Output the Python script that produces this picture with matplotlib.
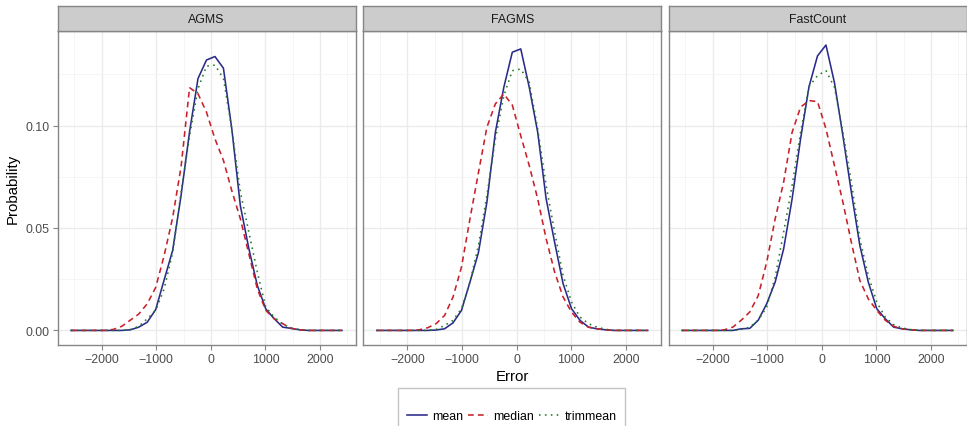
import numpy as np
import matplotlib
matplotlib.use("Agg")
import matplotlib.pyplot as plt
from matplotlib.lines import Line2D
from matplotlib.patches import Rectangle
from matplotlib.ticker import MultipleLocator, FuncFormatter

plt.rcParams['font.family'] = ['Liberation Sans', 'DejaVu Sans']

# ---- data ----
error = np.linspace(-2560, 2400, 33)
panels = ["AGMS", "FAGMS", "FastCount"]
series_names = ["mean", "median", "trimmean"]

agms_mean = [0, 0, 0, 0, 0, 0, 0,
             0.0003, 0.0016, 0.004, 0.0102, 0.0247, 0.039, 0.066, 0.097, 0.123, 0.132,
             0.1337, 0.128, 0.098, 0.0608, 0.040, 0.022, 0.0105, 0.0057, 0.0016, 0.001,
             0.0003, 0, 0, 0, 0, 0]
agms_median = [0, 0, 0, 0, 0,
               0.0005, 0.002, 0.005, 0.008, 0.013, 0.021, 0.0366, 0.055, 0.080, 0.1185,
               0.1155, 0.1065, 0.0935, 0.083, 0.068, 0.0545, 0.0374, 0.0203, 0.0098, 0.0057,
               0.0033, 0.001, 0.0003, 0, 0, 0, 0, 0]
agms_trim = [0, 0, 0, 0, 0, 0, 0,
             0.0004, 0.002, 0.0057, 0.0098, 0.0203, 0.038, 0.0675, 0.095, 0.118, 0.129,
             0.1295, 0.123, 0.098, 0.0675, 0.048, 0.0285, 0.0114, 0.0065, 0.003, 0.0012,
             0.0004, 0, 0, 0, 0, 0]

fagms_mean = [0, 0, 0, 0, 0, 0, 0,
              0.0002, 0.0008, 0.0037, 0.0098, 0.0236, 0.038, 0.0626, 0.0967, 0.1187, 0.1358,
              0.1374, 0.1187, 0.0967, 0.0642, 0.043, 0.0228, 0.0106, 0.0049, 0.0016, 0.0008,
              0.0003, 0, 0, 0, 0, 0]
fagms_median = [0, 0, 0, 0, 0,
                0.0003, 0.0013, 0.0033, 0.0073, 0.0163, 0.031, 0.0545, 0.077, 0.0992, 0.1106,
                0.1154, 0.110, 0.095, 0.0805, 0.0642, 0.0447, 0.0285, 0.0163, 0.0089, 0.004,
                0.0016, 0.0008, 0.0003, 0, 0, 0, 0, 0]
fagms_trim = [0, 0, 0, 0, 0, 0, 0,
              0.0005, 0.0024, 0.0049, 0.0106, 0.0236, 0.0415, 0.0659, 0.0935, 0.1146, 0.1268,
              0.1276, 0.1211, 0.0984, 0.0707, 0.048, 0.0268, 0.0138, 0.0065, 0.0033, 0.0016,
              0.0006, 0, 0, 0, 0, 0]

fc_mean = [0, 0, 0, 0, 0, 0, 0,
           0.0008, 0.001, 0.005, 0.013, 0.0236, 0.0398, 0.0642, 0.0935, 0.119, 0.134,
           0.1393, 0.121, 0.095, 0.0675, 0.0415, 0.0236, 0.0106, 0.0057, 0.0016, 0.0008,
           0.0003, 0, 0, 0, 0, 0]
fc_median = [0, 0, 0, 0, 0,
             0.0003, 0.0016, 0.005, 0.009, 0.017, 0.0333, 0.0545, 0.0724, 0.0967, 0.109,
             0.1122, 0.1117, 0.0984, 0.0805, 0.0626, 0.043, 0.0244, 0.0154, 0.0098, 0.005,
             0.002, 0.0008, 0.0003, 0, 0, 0, 0, 0]
fc_trim = [0, 0, 0, 0, 0, 0, 0,
           0.0005, 0.0016, 0.005, 0.0114, 0.026, 0.048, 0.0707, 0.0967, 0.119, 0.1244,
           0.1268, 0.1187, 0.0967, 0.0724, 0.0447, 0.0268, 0.0138, 0.0065, 0.0028, 0.0012,
           0.0004, 0, 0, 0, 0, 0]

data = {
    "AGMS": [agms_mean, agms_median, agms_trim],
    "FAGMS": [fagms_mean, fagms_median, fagms_trim],
    "FastCount": [fc_mean, fc_median, fc_trim],
}

colors = ["#2B2A8C", "#C8202A", "#217A25"]
styles = [dict(linestyle="-"), dict(linestyle=(0, (3.6, 2.6))), dict(linestyle=(0, (1, 2.7)))]

W, H = 967, 427
fig = plt.figure(figsize=(W / 100, H / 100), dpi=100)

panel_left = [57.5, 363.3, 668.5]
panel_w = 298.0
top, bottom = 31.7, 345.7
strip_top = 7.3

border = "#858585"
grid_c = "#EBEBEB"
tick_c = "#4D4D4D"
fs_tick = 8.9
fs_title = 10.8

for i, name in enumerate(panels):
    l = panel_left[i]
    ax = fig.add_axes([l / W, (H - bottom) / H, panel_w / W, (bottom - top) / H])
    for j, s in enumerate(series_names):
        ax.plot(error, data[name][j], color=colors[j], lw=1.15, **styles[j], zorder=3)
    ax.set_xlim(-2808, 2648)
    ax.set_ylim(-0.00697, 0.1463)
    ax.xaxis.set_major_locator(MultipleLocator(1000))
    ax.xaxis.set_minor_locator(MultipleLocator(500))
    ax.yaxis.set_major_locator(MultipleLocator(0.05))
    ax.yaxis.set_minor_locator(MultipleLocator(0.025))
    ax.grid(which="major", color=grid_c, lw=1.0, zorder=0)
    ax.grid(which="minor", color="#F4F4F4", lw=0.6, zorder=0)
    ax.set_axisbelow(True)
    for sp in ax.spines.values():
        sp.set_color(border)
        sp.set_linewidth(1.0)
    ax.tick_params(which="minor", length=0)
    ax.tick_params(which="major", length=3.5, color=border, labelcolor=tick_c,
                   labelsize=fs_tick, pad=2.5)
    if i == 0:
        ax.yaxis.set_major_formatter(FuncFormatter(lambda v, p: f"{v:.2f}"))
        ax.set_ylabel("Probability", fontsize=fs_title, labelpad=3.5, color="black")
    else:
        ax.tick_params(axis="y", left=False, labelleft=False)
    if i == 1:
        ax.set_xlabel("Error", fontsize=fs_title, labelpad=2.5, color="black")

    sax = fig.add_axes([l / W, (H - top) / H, panel_w / W, (top - strip_top) / H])
    sax.set_facecolor("#CCCCCC")
    sax.set_xticks([]); sax.set_yticks([])
    for sp in sax.spines.values():
        sp.set_color(border)
        sp.set_linewidth(1.0)
    sax.text(0.5, 0.48, name, ha="center", va="center", fontsize=fs_tick, color="#1A1A1A",
             transform=sax.transAxes)

# legend box (extends below the cropped figure edge like the reference)
fig.patches.append(Rectangle((398 / W, (H - 450) / H), 227 / W, 61 / H,
                             transform=fig.transFigure, facecolor="white",
                             edgecolor="#C4C4C4", lw=1.0, zorder=1))
handles = [Line2D([], [], color=colors[j], lw=1.15, **styles[j]) for j in range(3)]
leg = fig.legend(handles, series_names, loc="center", ncol=3,
                 bbox_to_anchor=(511.5 / W, (H - 417) / H), frameon=False,
                 fontsize=fs_tick, handlelength=1.65, handletextpad=0.4, columnspacing=0.4,
                 borderpad=0.0)
leg.set_zorder(2)

fig.savefig("out.png", dpi=100)
